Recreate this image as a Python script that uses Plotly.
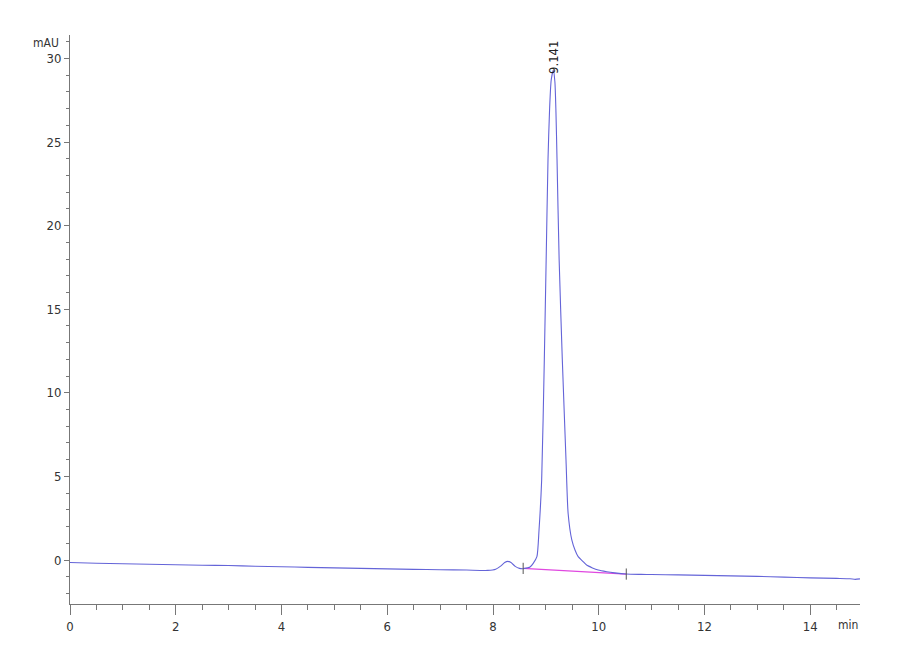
import plotly.graph_objects as go

# chromatogram trace (min, mAU)
time_min = [0.0, 0.5, 1.0, 1.5, 2.0, 2.5, 3.0, 3.5, 4.0, 4.5, 5.0, 5.5, 6.0, 6.5, 7.0, 7.5,
            7.9, 8.05, 8.15, 8.22, 8.28, 8.34, 8.42, 8.5, 8.57, 8.65, 8.7, 8.76, 8.83, 8.87,
            8.92, 8.97, 9.005, 9.04, 9.07, 9.1, 9.14, 9.17, 9.19, 9.21, 9.25, 9.31, 9.38,
            9.42, 9.49, 9.55, 9.61, 9.69, 9.77, 9.88, 9.99, 10.15, 10.3, 10.52, 10.8, 11.0,
            11.5, 12.0, 12.5, 13.0, 13.5, 14.0, 14.5, 14.75, 14.85, 14.94]
absorbance = [-0.15, -0.19, -0.22, -0.25, -0.28, -0.31, -0.33, -0.37, -0.40, -0.44, -0.47,
              -0.50, -0.53, -0.56, -0.58, -0.60, -0.62, -0.55, -0.35, -0.15, -0.08, -0.15,
              -0.38, -0.50, -0.52, -0.47, -0.42, -0.2, 0.2, 1.8, 4.8, 12.0, 18.0, 24.0,
              27.0, 28.7, 29.3, 28.6, 26.8, 24.0, 18.0, 12.0, 6.0, 2.8, 1.2, 0.6, 0.2,
              -0.05, -0.3, -0.47, -0.6, -0.7, -0.77, -0.84, -0.86, -0.87, -0.89, -0.92,
              -0.95, -0.98, -1.02, -1.07, -1.10, -1.12, -1.16, -1.13]

# integration baseline of the main peak
base_t = [8.57, 10.52]
base_y = [-0.50, -0.84]

peak_rt = 9.141
peak_height = 29.3

x_ticks = [0, 2, 4, 6, 8, 10, 12, 14]
y_ticks = [0, 5, 10, 15, 20, 25, 30]

font_family = "Liberation Sans Narrow, DejaVu Sans Condensed, Liberation Sans, sans-serif"

fig = go.Figure()

fig.add_trace(go.Scatter(
    x=base_t, y=base_y, mode="lines",
    line=dict(color="#e048e0", width=1.2),
    hoverinfo="skip"))

fig.add_trace(go.Scatter(
    x=time_min, y=absorbance, mode="lines",
    line=dict(color="#6464d8", width=1.1, shape="spline", smoothing=0.6),
    hoverinfo="skip"))

fig.add_trace(go.Scatter(
    x=base_t, y=base_y, mode="markers",
    marker=dict(symbol="line-ns", size=8, line=dict(color="#555555", width=1)),
    hoverinfo="skip"))

fig.add_annotation(
    x=peak_rt, y=peak_height, text=f"{peak_rt:.3f}",
    textangle=-90, showarrow=False, xanchor="center", yanchor="bottom",
    yshift=-6, font=dict(family=font_family, size=13, color="#222222"))

fig.add_annotation(
    xref="paper", yref="paper", x=-0.012, y=1.0, text="mAU",
    showarrow=False, xanchor="right", yanchor="middle", yshift=-8,
    font=dict(family=font_family, size=12, color="#333333"))

fig.add_annotation(
    xref="paper", yref="paper", x=1.0, y=0, text="min",
    showarrow=False, xanchor="right", yanchor="top", yshift=-12,
    font=dict(family=font_family, size=12, color="#333333"))

fig.update_layout(
    width=900, height=660,
    margin=dict(l=62, r=48, t=27, b=64),
    paper_bgcolor="white", plot_bgcolor="white",
    showlegend=False,
    font=dict(family=font_family, size=13, color="#333333"),
)

fig.update_xaxes(
    range=[0, 14.94], tickvals=x_ticks, ticks="outside", ticklen=10,
    tickcolor="#777777", showline=True, linecolor="#777777", linewidth=1,
    showgrid=False, zeroline=False,
    minor=dict(dtick=0.5, tick0=0, ticks="outside", ticklen=5, tickcolor="#777777"),
)
fig.update_yaxes(
    range=[-2.63, 31.4], tickvals=y_ticks, ticks="outside", ticklen=5,
    tickcolor="#777777", showline=True, linecolor="#777777", linewidth=1,
    showgrid=False, zeroline=False,
    minor=dict(dtick=1, tick0=0, ticks="outside", ticklen=3, tickcolor="#777777"),
)

fig.write_html("out.html")
